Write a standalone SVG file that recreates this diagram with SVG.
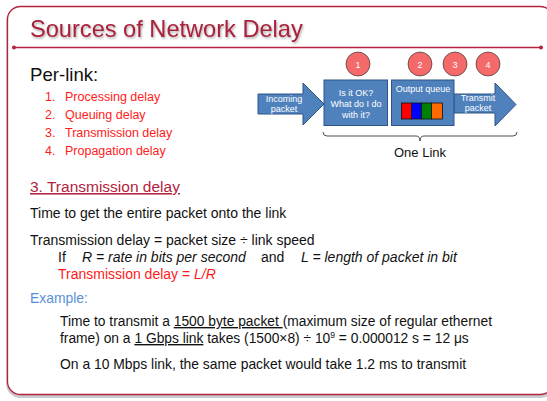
<svg xmlns="http://www.w3.org/2000/svg" width="547" height="401" viewBox="0 0 547 401">
<style>
text{font-family:"Liberation Sans",Arial,sans-serif}
.title{font-size:23.6px;fill:#a8203a}
.blk{fill:#111}
.red{fill:#ff1a1a}
.wt{fill:#fff;font-size:9px;text-anchor:middle}
.num{fill:#fff;font-size:9px;text-anchor:middle}
.arrow{fill:#4f81bd;stroke:#2f5487;stroke-width:1}
.circ{fill:#f46a6a;stroke:#222;stroke-width:0.6}
</style>
<defs>
<filter id="sh" x="-10%" y="-10%" width="130%" height="140%">
<feDropShadow dx="1" dy="1.5" stdDeviation="0.8" flood-color="#000" flood-opacity="0.35"/>
</filter>
</defs>
<rect width="547" height="401" fill="#fff"/>
<g id="frame">
<rect x="7.5" y="6.5" width="546" height="388" rx="13" fill="none" stroke="#c8cacc" stroke-width="3" transform="translate(0,2)"/>
<rect x="7.5" y="6.5" width="546" height="388" rx="13" fill="#fff" stroke="#b3223e" stroke-width="1.3"/>
<line x1="14" y1="47.5" x2="541" y2="47.5" stroke="#b3223e" stroke-width="1.3"/>
<circle cx="14" cy="47.5" r="2" fill="#b3223e"/>
<circle cx="541" cy="47.5" r="2" fill="#b3223e"/>
</g>
<text x="30" y="37" class="title" filter="url(#sh)">Sources of Network Delay</text>
<text x="30" y="81" font-size="18.6" class="blk">Per-link:</text>
<g font-size="12.5">
<text x="45" y="101" class="red">1.</text><text x="65" y="101" class="red">Processing delay</text>
<text x="45" y="119" class="red">2.</text><text x="65" y="119" class="red">Queuing delay</text>
<text x="45" y="137" class="red">3.</text><text x="65" y="137" class="red">Transmission delay</text>
<text x="45" y="155" class="red">4.</text><text x="65" y="155" class="red">Propagation delay</text>
</g>
<g id="connectors">
<path d="M323,132 Q323,136 327,136 L416,136 Q420,136 420,141 Q420,136 424,136 L513,136 Q517,136 517,132" fill="none" stroke="#222" stroke-width="0.8"/>
</g>
<g id="incoming">
<path class="arrow" d="M258,94 L303,94 L303,83 L324,104 L303,125 L303,114 L258,114 Z"/>
<text class="wt" x="284" y="101.5">Incoming</text>
<text class="wt" x="284" y="111.5">packet</text>
</g>
<g id="box1">
<rect class="arrow" x="324" y="80" width="63.5" height="45.5"/>
<text class="wt" x="356" y="96">Is it OK?</text>
<text class="wt" x="356" y="107">What do I do</text>
<text class="wt" x="356" y="118">with it?</text>
</g>
<g id="transmit">
<path class="arrow" d="M454,94 L495,94 L495,83 L516,104.5 L495,126 L495,113 L454,113 Z"/>
<text class="wt" x="478" y="101">Transmit</text>
<text class="wt" x="478" y="111">packet</text>
</g>
<g id="box2">
<rect class="arrow" x="391.5" y="80" width="62.5" height="45.5"/>
<text class="wt" x="423" y="92">Output queue</text>
<rect x="401.5" y="103" width="10" height="16" fill="#ff0000" stroke="#111" stroke-width="0.8"/>
<rect x="411.5" y="103" width="10" height="16" fill="#0000ff" stroke="#111" stroke-width="0.8"/>
<rect x="421.5" y="103" width="10" height="16" fill="#008000" stroke="#111" stroke-width="0.8"/>
<rect x="431.5" y="103" width="11" height="16" fill="#ff6a00" stroke="#111" stroke-width="0.8"/>
</g>
<g id="c1"><circle class="circ" cx="358" cy="64" r="12"/><text class="num" x="358" y="67.5">1</text></g>
<g id="c2"><circle class="circ" cx="420" cy="64" r="12"/><text class="num" x="420" y="67.5">2</text></g>
<g id="c3"><circle class="circ" cx="455" cy="64" r="12" stroke="#ee0000" stroke-width="2"/><text class="num" x="455" y="67.5">3</text></g>
<g id="c4"><circle class="circ" cx="488" cy="64" r="12"/><text class="num" x="488" y="67.5">4</text></g>
<text x="420" y="157" font-size="13" text-anchor="middle" class="blk">One Link</text>
<text x="30" y="192" font-size="15.5" fill="#b3223e" text-decoration="underline">3. Transmission delay</text>
<text x="30" y="218" font-size="14" class="blk">Time to get the entire packet onto the link</text>
<text x="30" y="245" font-size="14" class="blk">Transmission delay = packet size ÷ link speed</text>
<text y="262" font-size="14" class="blk"><tspan x="58">If</tspan><tspan x="82" font-style="italic">R = rate in bits per second</tspan><tspan x="261">and</tspan><tspan x="301" font-style="italic">L = length of packet in bit</tspan></text>
<text x="58" y="279" font-size="14" class="red">Transmission delay = <tspan font-style="italic">L/R</tspan></text>
<text x="30" y="303" font-size="13.9" fill="#5b8fd8">Example:</text>
<text x="60" y="326" font-size="13.8" class="blk">Time to transmit a <tspan text-decoration="underline">1500 byte packet </tspan>(maximum size of regular ethernet</text>
<text x="60" y="343" font-size="13.8" class="blk">frame) on a <tspan text-decoration="underline">1 Gbps link</tspan> takes (1500×8) ÷ 10<tspan font-size="8.5" dy="-5">9</tspan><tspan dy="5"> = 0.000012 s = 12 μs</tspan></text>
<text x="60" y="369" font-size="13.9" class="blk">On a 10 Mbps link, the same packet would take 1.2 ms to transmit</text>
</svg>
